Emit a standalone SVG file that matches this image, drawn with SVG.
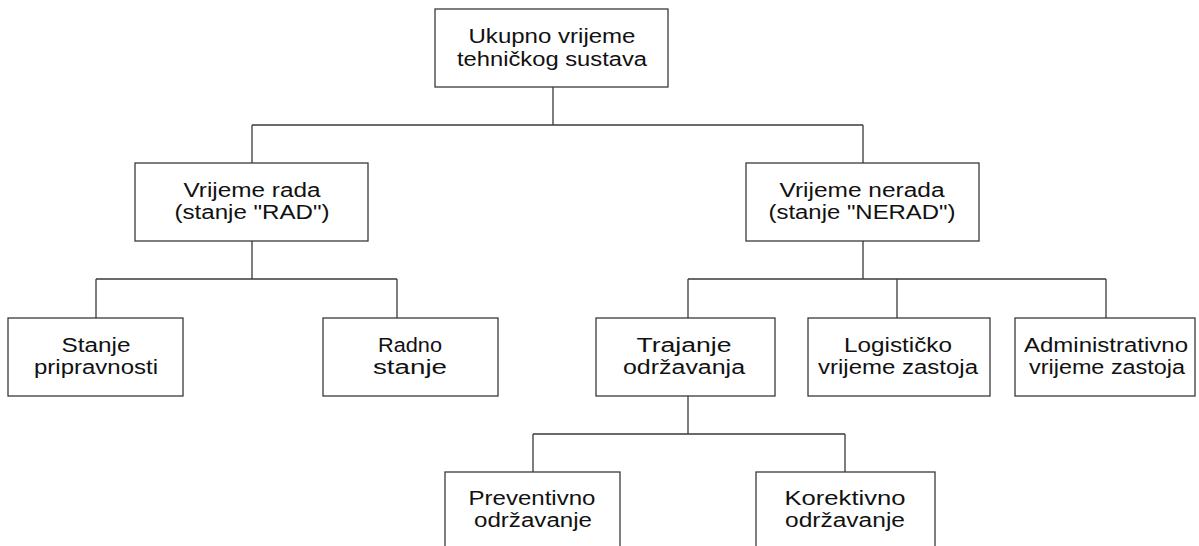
<svg xmlns="http://www.w3.org/2000/svg" width="1199" height="546" viewBox="0 0 1199 546">
<style>
.box{fill:#fff;stroke:#3a3a3a;stroke-width:1.3}
.ln{fill:none;stroke:#3a3a3a;stroke-width:1.3}
text{font-family:"Liberation Sans",Arial,sans-serif;font-size:20px;fill:#111;text-anchor:middle}
</style>
<rect width="1199" height="546" fill="#fff"/>
<g id="connectors">
<path class="ln" d="M553 87V125M252 125H863M252 125V163M863 125V163"/>
<path class="ln" d="M252 241V279M96 279H397M96 279V318M397 279V318"/>
<path class="ln" d="M863 241V279M688 279H1106M688 279V318M897 279V318M1106 279V318"/>
<path class="ln" d="M688 396V434M533 434H845M533 434V472M845 434V472"/>
</g>
<g id="n-ukupno"><rect class="box" x="435" y="9" width="233" height="78"/>
<text x="552" y="43" textLength="167" lengthAdjust="spacingAndGlyphs">Ukupno vrijeme</text>
<text x="552" y="66" textLength="190" lengthAdjust="spacingAndGlyphs">tehničkog sustava</text></g>
<g id="n-rad"><rect class="box" x="135" y="163" width="233" height="78"/>
<text x="252" y="197" textLength="137" lengthAdjust="spacingAndGlyphs">Vrijeme rada</text>
<text x="252" y="219" textLength="155" lengthAdjust="spacingAndGlyphs">(stanje "RAD")</text></g>
<g id="n-nerad"><rect class="box" x="746" y="163" width="233" height="78"/>
<text x="862" y="197" textLength="165" lengthAdjust="spacingAndGlyphs">Vrijeme nerada</text>
<text x="862" y="219" textLength="187" lengthAdjust="spacingAndGlyphs">(stanje "NERAD")</text></g>
<g id="n-stanje"><rect class="box" x="8" y="318" width="175" height="78"/>
<text x="96" y="352" textLength="69" lengthAdjust="spacingAndGlyphs">Stanje</text>
<text x="96" y="374" textLength="124" lengthAdjust="spacingAndGlyphs">pripravnosti</text></g>
<g id="n-radno"><rect class="box" x="323" y="318" width="175" height="78"/>
<text x="410" y="352" textLength="64" lengthAdjust="spacingAndGlyphs">Radno</text>
<text x="410" y="374" textLength="74" lengthAdjust="spacingAndGlyphs">stanje</text></g>
<g id="n-trajanje"><rect class="box" x="596" y="318" width="179" height="78"/>
<text x="684" y="352" textLength="95" lengthAdjust="spacingAndGlyphs">Trajanje</text>
<text x="684" y="374" textLength="122" lengthAdjust="spacingAndGlyphs">održavanja</text></g>
<g id="n-logisticko"><rect class="box" x="808" y="318" width="182" height="78"/>
<text x="898" y="352" textLength="108" lengthAdjust="spacingAndGlyphs">Logističko</text>
<text x="898" y="374" textLength="160" lengthAdjust="spacingAndGlyphs">vrijeme zastoja</text></g>
<g id="n-administrativno"><rect class="box" x="1015" y="318" width="180" height="78"/>
<text x="1106" y="352" textLength="164" lengthAdjust="spacingAndGlyphs">Administrativno</text>
<text x="1107" y="374" textLength="156" lengthAdjust="spacingAndGlyphs">vrijeme zastoja</text></g>
<g id="n-preventivno"><rect class="box" x="445" y="472" width="175" height="80"/>
<text x="532" y="505" textLength="127" lengthAdjust="spacingAndGlyphs">Preventivno</text>
<text x="533" y="527" textLength="118" lengthAdjust="spacingAndGlyphs">održavanje</text></g>
<g id="n-korektivno"><rect class="box" x="756" y="472" width="179" height="80"/>
<text x="845" y="505" textLength="121" lengthAdjust="spacingAndGlyphs">Korektivno</text>
<text x="845" y="527" textLength="120" lengthAdjust="spacingAndGlyphs">održavanje</text></g>
</svg>
